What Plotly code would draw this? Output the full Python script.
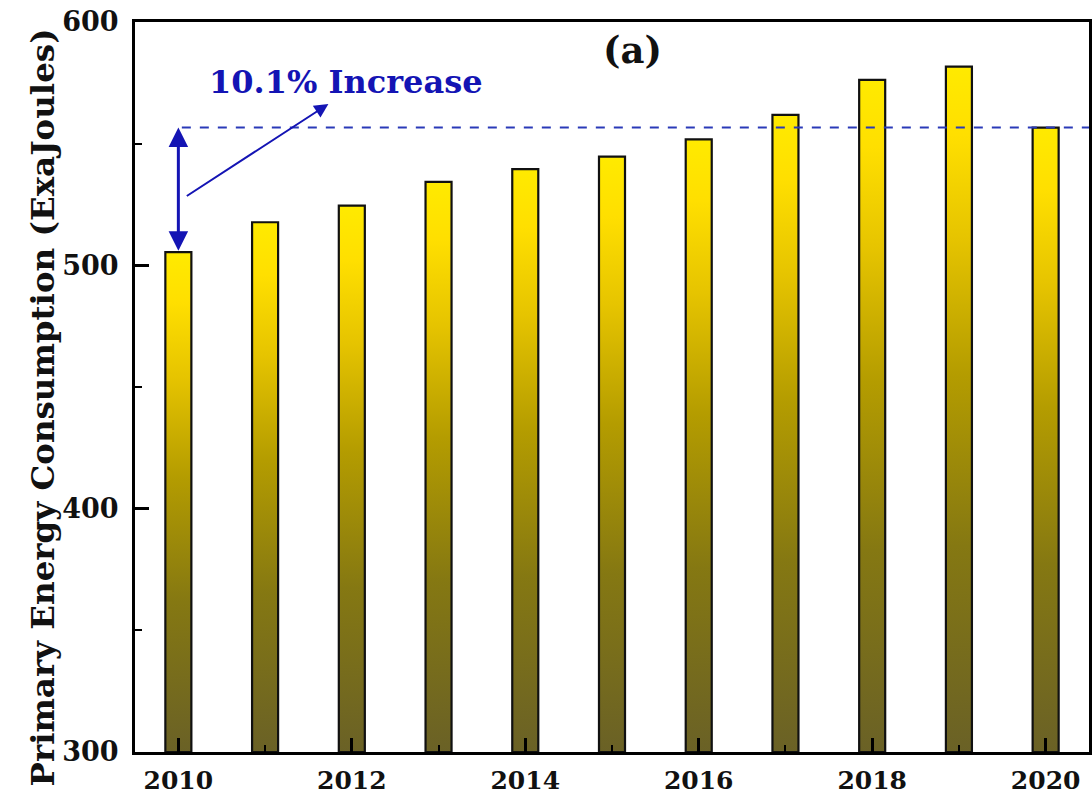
import plotly.graph_objects as go

years = [2010, 2011, 2012, 2013, 2014, 2015, 2016, 2017, 2018, 2019, 2020]
consumption = [505.4, 517.7, 524.5, 534.3, 539.5, 544.7, 551.8, 561.8, 576.2, 581.7, 556.6]
x_tick_vals = [2010, 2012, 2014, 2016, 2018, 2020]
x_tick_text = ["2010", "2012", "2014", "2016", "2018", "2020"]
y_tick_vals = [300, 400, 500, 600]
y_tick_text = ["300", "400", "500", "600"]
y_title = "Primary Energy Consumption (ExaJoules)"
y_base = 300
bar_width = 0.30

FONT = "DejaVu Serif"
BLUE = "#1414B4"

gradient = [
    [0.0, "#6A6126"],
    [0.3, "#857812"],
    [0.55, "#B49C00"],
    [0.75, "#E6C400"],
    [0.9, "#FFDF00"],
    [1.0, "#FFEA00"],
]

fig = go.Figure()
for yr, v in zip(years, consumption):
    x0, x1 = yr - bar_width / 2, yr + bar_width / 2
    fig.add_trace(go.Scatter(
        x=[x0, x0, x1, x1, x0],
        y=[y_base, v, v, y_base, y_base],
        mode="lines",
        fill="toself",
        fillgradient=dict(type="vertical", colorscale=gradient),
        line=dict(color="#111111", width=2.2),
        hoverinfo="skip",
        showlegend=False,
    ))

start_val = consumption[0]
end_val = consumption[-1]
increase = (end_val - start_val) / start_val * 100

# dashed reference line at the 2020 level
fig.add_trace(go.Scatter(
    x=[years[0] + 0.04, 2020.5],
    y=[end_val, end_val],
    mode="lines",
    line=dict(color="#2A3AB8", width=2, dash="dash"),
    hoverinfo="skip",
    showlegend=False,
))

# double-headed vertical arrow
fig.add_annotation(
    x=years[0], y=end_val, ax=years[0], ay=start_val,
    xref="x", yref="y", axref="x", ayref="y",
    showarrow=True, arrowhead=2, startarrowhead=2, arrowside="end+start",
    arrowsize=1.3, startarrowsize=1.3, arrowwidth=3, arrowcolor=BLUE, text="",
)
# slanted pointer arrow
fig.add_annotation(
    x=2011.73, y=566.3, ax=2010.08, ay=528.1,
    xref="x", yref="y", axref="x", ayref="y",
    showarrow=True, arrowhead=2, arrowsize=1.4, arrowwidth=2, arrowcolor=BLUE, text="",
)
fig.add_annotation(
    x=2011.93, y=575.4, xref="x", yref="y", showarrow=False,
    text=f"<b>{increase:.1f}% Increase</b>",
    font=dict(family=FONT, size=32, color=BLUE),
)
fig.add_annotation(
    x=2015.24, y=588.5, xref="x", yref="y", showarrow=False,
    text="<b>(a)</b>",
    font=dict(family=FONT, size=37, color="#111111"),
)
# y-axis title
fig.add_annotation(
    x=-0.0975, y=0.472, xref="paper", yref="paper", showarrow=False,
    xanchor="center", yanchor="middle", textangle=-90,
    text=f"<b>{y_title}</b>",
    font=dict(family=FONT, size=32.5, color="#111111"),
)

axis_common = dict(
    showline=True, linewidth=3, linecolor="#000000", mirror=True,
    ticks="inside", ticklen=14, tickwidth=3, tickcolor="#000000",
    showgrid=False, zeroline=False, automargin=False,
)

fig.update_xaxes(
    range=[2009.5, 2020.5],
    tickvals=x_tick_vals, ticktext=x_tick_text,
    minor=dict(ticks="inside", ticklen=7, tickwidth=2, tickcolor="#000000", dtick=1, tick0=2009),
    ticklabelstandoff=4,
    tickfont=dict(family=FONT, size=25, color="#111111", weight="bold"),
    **axis_common,
)
fig.update_yaxes(
    range=[300, 600],
    tickvals=y_tick_vals, ticktext=y_tick_text,
    minor=dict(ticks="inside", ticklen=7, tickwidth=2, tickcolor="#000000", dtick=50, tick0=300),
    ticklabelstandoff=8,
    tickfont=dict(family=FONT, size=27, color="#111111", weight="bold"),
    **axis_common,
)

fig.update_layout(
    width=1092, height=796,
    margin=dict(l=135, r=3, t=22, b=44),
    paper_bgcolor="white", plot_bgcolor="white",
)

fig.write_html("out.html")
